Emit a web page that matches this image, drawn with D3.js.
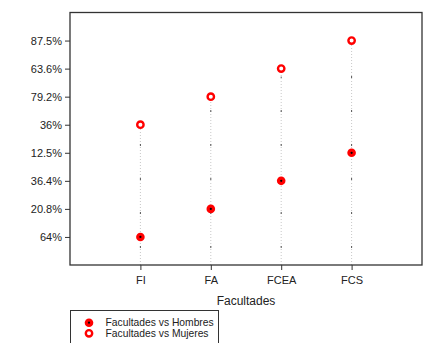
<!DOCTYPE html>
<html>
<head>
<meta charset="utf-8">
<script src="https://cdn.jsdelivr.net/npm/d3@7"></script>
<style>
  body { margin: 0; background: #fff; }
  svg text { font-family: "Liberation Sans", Arial, sans-serif; fill: #222; }
</style>
</head>
<body>
<div id="chart"></div>
<script>
// Données
const facultades = ['FI', 'FA', 'FCEA', 'FCS'];
const niveles = ['64%', '20.8%', '36.4%', '12.5%', '36%', '79.2%', '63.6%', '87.5%'];
const hombres = ['64%', '20.8%', '36.4%', '12.5%'];
const mujeres = ['36%', '79.2%', '63.6%', '87.5%'];

const width = 430;
const height = 343;
const plot = { left: 70, right: 422, top: 12.5, bottom: 265 };

const svg = d3.select('#chart')
    .append('svg')
    .attr('width', width)
    .attr('height', height);

const x = d3.scalePoint()
    .domain(facultades)
    .range([plot.left, plot.right])
    .padding(1);

const y = d3.scalePoint()
    .domain(niveles)
    .range([plot.bottom, plot.top])
    .padding(1);

// lignes pointillées verticales
const lines = svg.append('g');
facultades.forEach((f, i) => {
    lines.append('line')
        .attr('x1', x(f)).attr('x2', x(f))
        .attr('y1', plot.bottom).attr('y2', y(mujeres[i]))
        .attr('stroke', '#c8c8c8')
        .attr('stroke-width', 1)
        .attr('stroke-dasharray', '1,2');
    lines.append('line')
        .attr('x1', x(f)).attr('x2', x(f))
        .attr('y1', plot.bottom).attr('y2', y(mujeres[i]) + 8)
        .attr('stroke', '#555')
        .attr('stroke-width', 1)
        .attr('stroke-dasharray', '2,32')
        .attr('stroke-dashoffset', -17);
});

// Axes
const xAxis = d3.axisBottom(x).tickSize(5).tickPadding(6);
const yAxis = d3.axisLeft(y).tickSize(5).tickPadding(3);

const gx = svg.append('g')
    .attr('transform', `translate(0,${plot.bottom})`)
    .call(xAxis);
const gy = svg.append('g')
    .attr('transform', `translate(${plot.left},0)`)
    .call(yAxis);

[gx, gy].forEach(g => {
    g.select('.domain').remove();
    g.selectAll('line').attr('stroke', '#333');
    g.selectAll('text')
        .style('font-size', '11px')
        .style('font-family', '"Liberation Sans", Arial, sans-serif')
        .attr('fill', '#222');
});

// cadre
svg.append('rect')
    .attr('x', plot.left)
    .attr('y', plot.top)
    .attr('width', plot.right - plot.left)
    .attr('height', plot.bottom - plot.top)
    .attr('fill', 'none')
    .attr('stroke', '#333')
    .attr('stroke-width', 1.3);

// titre axe X
svg.append('text')
    .attr('x', (plot.left + plot.right) / 2)
    .attr('y', 305)
    .attr('text-anchor', 'middle')
    .style('font-size', '12px')
    .text('Facultades');

function puntoHombre(g, cx, cy) {
    g.append('circle').attr('cx', cx).attr('cy', cy).attr('r', 4.3).attr('fill', '#f00');
    g.append('circle').attr('cx', cx).attr('cy', cy).attr('r', 1.1).attr('fill', '#000');
}
function puntoMujer(g, cx, cy) {
    g.append('circle').attr('cx', cx).attr('cy', cy).attr('r', 3.2)
        .attr('fill', '#fff').attr('stroke', '#f00').attr('stroke-width', 2.4);
}

const pts = svg.append('g');
facultades.forEach((f, i) => {
    puntoHombre(pts, x(f), y(hombres[i]));
    puntoMujer(pts, x(f), y(mujeres[i]));
});

// Légende
const legend = svg.append('g');
legend.append('rect')
    .attr('x', 70.5).attr('y', 310.5)
    .attr('width', 148).attr('height', 40)
    .attr('fill', '#fff')
    .attr('stroke', '#333')
    .attr('stroke-width', 1);

const items = ['Facultades vs Hombres', 'Facultades vs Mujeres'];
items.forEach((t, i) => {
    const cy = 322.7 + i * 10.6;
    if (i === 0) puntoHombre(legend, 89, cy);
    else puntoMujer(legend, 89, cy);
    legend.append('text')
        .attr('x', 105.5)
        .attr('y', cy + 3.6)
        .style('font-size', '10.3px')
        .text(t);
});
</script>
</body>
</html>
